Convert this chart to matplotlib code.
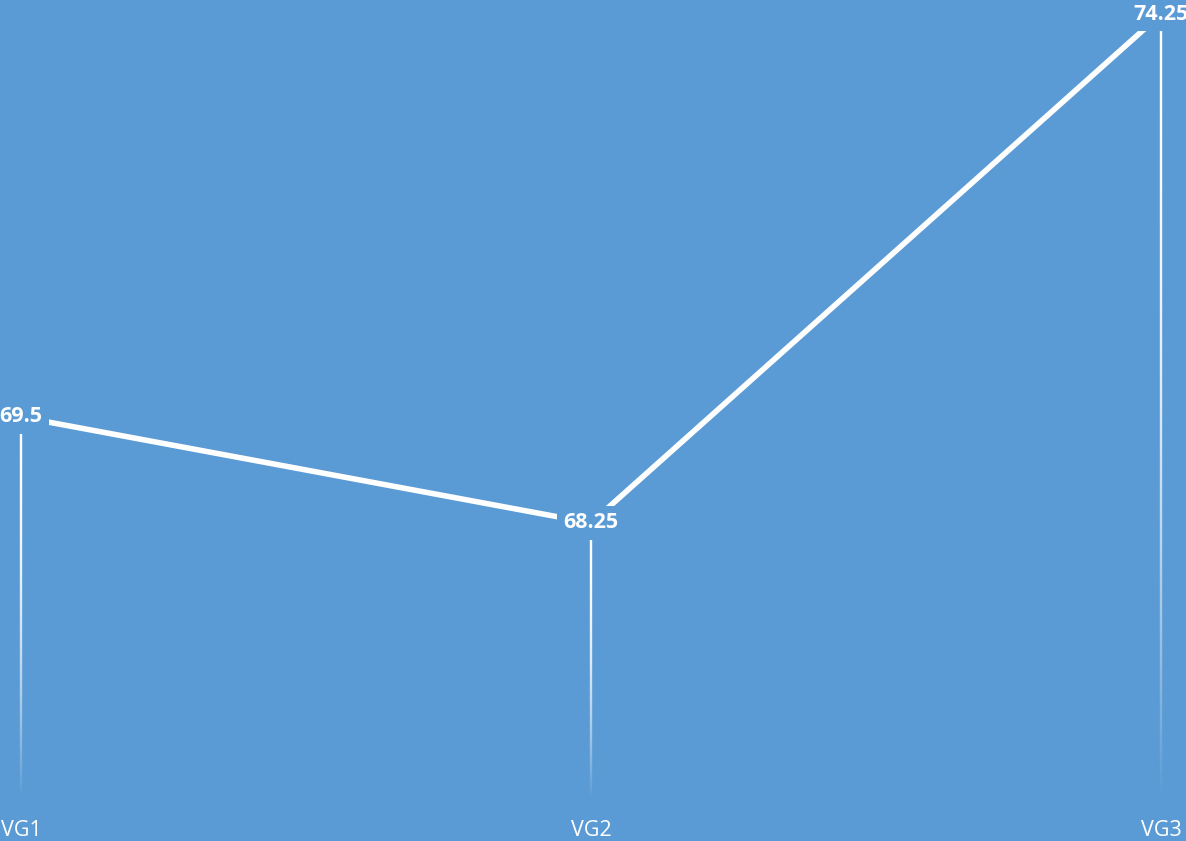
import matplotlib.pyplot as plt
import numpy as np
from matplotlib.collections import LineCollection

# data
groups = ["VG1", "VG2", "VG3"]
values = [69.5, 68.25, 74.25]
labels = ["69.5", "68.25", "74.25"]

bg = "#5B9BD5"
base = 65.0

fig = plt.figure(figsize=(11.86, 8.41), dpi=100)
fig.patch.set_facecolor(bg)
ax = fig.add_axes([0, 0, 1, 1])
ax.set_facecolor(bg)

x = np.arange(len(groups))

# drop lines fading to the bottom
for xi, v in zip(x, values):
    ys = np.linspace(v, base, 120)
    segs = [[(xi, ys[i]), (xi, ys[i + 1])] for i in range(len(ys) - 1)]
    t = np.linspace(0, 1, len(segs))
    alphas = np.clip(1 - t ** 2.2, 0, 1)
    cols = [(1, 1, 1, a) for a in alphas]
    ax.add_collection(LineCollection(segs, colors=cols, linewidths=1.7, zorder=2))

# main line
ax.plot(x, values, color="white", lw=4, solid_capstyle="butt", zorder=3)

# value labels sit on the points, masking the line
for xi, v, lab in zip(x, values, labels):
    ax.text(xi, v, lab, ha="center", va="center", color="white",
            fontsize=15.5, fontweight="bold", family="Open Sans", zorder=5,
            bbox=dict(boxstyle="square,pad=0.3", fc=bg, ec="none"))

# category labels
for xi, g in zip(x, groups):
    ax.text(xi, 64.62, g, ha="center", va="center", color="white",
            fontsize=15.5, family="Open Sans", zorder=5)

ax.set_xlim(-21 / 570, 1165 / 570)
ax.set_ylim(64.5, 74.417)
ax.axis("off")

fig.savefig("out.png", dpi=100, facecolor=bg)
